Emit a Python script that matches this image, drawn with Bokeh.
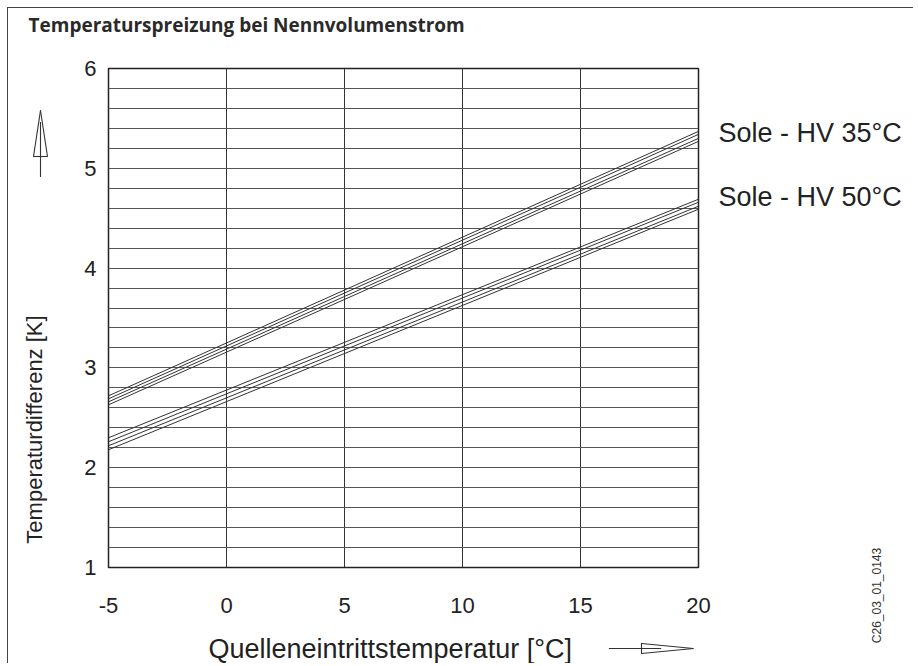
from bokeh.plotting import figure
from bokeh.models import FixedTicker, Label, Range1d, LinearAxis
from bokeh.embed import file_html
from bokeh.resources import INLINE
import numpy as np

# ---- data ----
x_ends = [-5, 20]
hv35_start = [2.72, 2.69, 2.66, 2.63]
hv35_end = [5.37, 5.34, 5.30, 5.27]
hv50_start = [2.30, 2.26, 2.22, 2.18]
hv50_end = [4.69, 4.66, 4.62, 4.59]
x_ticks = [-5, 0, 5, 10, 15, 20]
y_ticks = [1, 2, 3, 4, 5, 6]
series_labels = ["Sole - HV 35°C", "Sole - HV 50°C"]
series_label_y = [5.35, 4.71]
title_text = "Temperaturspreizung bei Nennvolumenstrom"
x_title = "Quelleneintrittstemperatur [°C]"
y_title = "Temperaturdifferenz [K]"
code_text = "C26_03_01_0143"

FONT = "Liberation Sans"
INK = "#222222"
LINE = "#333333"

p = figure(width=906, height=656, output_backend="svg", toolbar_location=None,
           x_range=Range1d(-5, 20), y_range=Range1d(1, 6),
           min_border_left=100, min_border_right=216, min_border_top=60, min_border_bottom=97)
p.margin = (7, 0, 0, 7)
p.styles = {"border-left": "1px solid #444", "border-top": "1px solid #444"}

p.outline_line_color = "#222222"
p.outline_line_width = 1.5

def style_axis(ax, size):
    ax.axis_line_color = None
    ax.major_tick_line_color = None
    ax.minor_tick_line_color = None
    ax.major_tick_out = 0
    ax.minor_tick_out = 0
    ax.major_label_text_font = FONT
    ax.major_label_text_font_size = size
    ax.major_label_text_color = INK

style_axis(p.xaxis[0], "22px")
style_axis(p.yaxis[0], "22px")
p.xaxis.ticker = FixedTicker(ticks=x_ticks)
p.yaxis.ticker = FixedTicker(ticks=y_ticks)
p.xaxis.major_label_overrides = {t: str(t) for t in x_ticks}
p.xaxis.major_label_standoff = 30
p.yaxis.major_label_standoff = 12

# series names as labels of a right-hand axis, level with the line ends
ry = LinearAxis(ticker=FixedTicker(ticks=series_label_y),
                major_label_overrides=dict(zip(series_label_y, series_labels)),
                major_label_standoff=20)
style_axis(ry, "27px")
p.add_layout(ry, "right")

p.xgrid.ticker = FixedTicker(ticks=x_ticks)
p.xgrid.grid_line_color = LINE
p.xgrid.grid_line_width = 1
p.ygrid.ticker = FixedTicker(ticks=list(np.round(np.arange(1.0, 6.01, 0.2), 2)))
p.ygrid.grid_line_color = "#555555"
p.ygrid.grid_line_width = 1

xs, ys = [], []
for s, e in zip(hv35_start + hv50_start, hv35_end + hv50_end):
    xs.append(x_ends)
    ys.append([s, e])
p.multi_line(xs, ys, line_color=LINE, line_width=1)

C = dict(x_units="canvas", y_units="canvas")

def lab(x, y, text, size, side, **kw):
    opts = dict(text_font=FONT, text_font_size=size, text_color=INK,
                text_baseline="middle", text_align="left")
    opts.update(kw)
    p.add_layout(Label(x=x, y=y, text=text, **C, **opts), side)

# title
lab(19, 15, title_text, "19px", "above", text_font="Open Sans", text_font_style="bold",
    text_color="#2a2a2a")
# axis titles
lab(199, 639, x_title, "27px", "below")
lab(25, 420, y_title, "22px", "left", text_align="center", angle=np.pi / 2)
# code text
lab(867, 586, code_text, "12px", "left", text_align="center", angle=np.pi / 2,
    text_color="#333333")

# thin strokes for the direction arrows (canvas pixels), drawn as padded empty labels
# padding tuple is (horizontal, vertical)
def seg(x0, y0, x1, y1, side):
    dx, dy = x1 - x0, y1 - y0
    L = float(np.hypot(dx, dy))
    cx, cy = (x0 + x1) / 2, (y0 + y1) / 2
    phi = float(np.arctan2(-dy, dx))
    if abs(dx) >= abs(dy):   # mostly horizontal: flat bar, tilted
        if phi > np.pi / 2:
            phi -= np.pi
        elif phi < -np.pi / 2:
            phi += np.pi
        p.add_layout(Label(x=cx, y=cy, text=" ", text_font_size="1px", **C,
                           text_align="center", text_baseline="middle",
                           background_fill_color=LINE, padding=(int(round(L / 2)), 0),
                           angle=phi), side)
    else:                    # mostly vertical: tall bar, tilted
        pv = max(0, int(round((L - 4.6) / 2)))
        p.add_layout(Label(x=cx, y=cy, text=" ", text_font_size="4px", **C,
                           text_align="center", text_baseline="middle",
                           background_fill_color=LINE, padding=(0, pv),
                           angle=float(phi - np.pi / 2)), side)

# y arrow (pointing up)
seg(31, 167, 31, 113, "left")
seg(31, 101, 24, 147, "left")
seg(31, 101, 38, 147, "left")
seg(24, 147, 38, 147, "above")
# x arrow (pointing right)
seg(599, 639, 652, 639, "above")
seg(632, 634, 684, 639, "above")
seg(632, 644, 684, 639, "above")
seg(632, 634, 632, 644, "left")

open("out.html", "w").write(file_html(p, INLINE))
